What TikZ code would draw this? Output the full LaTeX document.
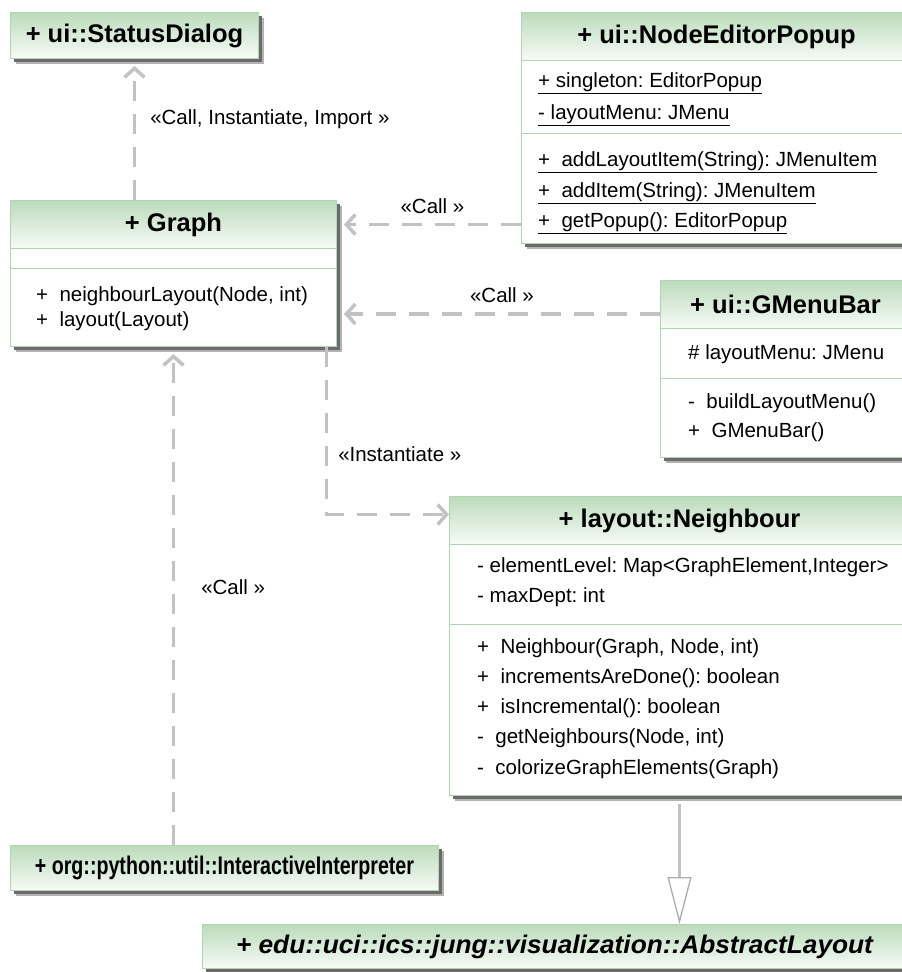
\documentclass[tikz,border=0pt]{standalone}
\usepackage{fontspec}
\usepackage{graphicx}
\setmainfont{Liberation Sans}
\usetikzlibrary{arrows.meta,shadows}

\definecolor{umlborder}{HTML}{B2D4B2}
\definecolor{headtop}{HTML}{BCDBBC}
\definecolor{headbot}{HTML}{F7FBF7}
\definecolor{depgray}{HTML}{C2C2C2}

\newcommand{\classfont}{\fontsize{25.5}{30}\selectfont\bfseries}
\newcommand{\memberfont}{\fontsize{20.5}{24}\selectfont}
\frenchspacing

\begin{document}
\begin{tikzpicture}[x=1pt, y=-1pt,
    boxshadow/.style={drop shadow={shadow xshift=5pt, shadow yshift=-5pt, fill=black!30, opacity=1},
                      drop shadow={shadow xshift=3pt, shadow yshift=-3pt, fill=black!58, opacity=1}},
    classbox/.style={boxshadow, draw=umlborder, line width=1pt, fill=white, anchor=north west, inner sep=0pt},
    classhead/.style={draw=umlborder, line width=1pt, top color=headtop, bottom color=headbot,
                      anchor=north west, inner sep=0pt, font=\classfont},
    member/.style={anchor=west, inner sep=0pt, font=\memberfont},
    sepline/.style={draw=umlborder, line width=1pt},
    dep/.style={draw=depgray, line width=3.5pt, dash pattern=on 20pt off 13pt,
                -{Straight Barb[length=9pt, width=20pt]}},
    gen/.style={draw=depgray, line width=3.5pt,
                -{Triangle[open, length=47pt, width=24pt, line width=1.3pt, color=black!32]}},
    deplabel/.style={font=\memberfont, inner sep=0pt}]

    \clip (0,0) rectangle (902,972);

    % ui::StatusDialog
    \node[classhead, boxshadow, minimum width=248, minimum height=46] (status) at (10,12) {+ ui::StatusDialog};

    % ui::NodeEditorPopup
    \node[classbox, minimum width=390, minimum height=231] (editor) at (521,12) {};
    \node[classhead, minimum width=390, minimum height=48] (editorhead) at (521,12) {+ ui::NodeEditorPopup};
    \draw[sepline] (521,133) -- (911,133);
    \node[member] (e1) at (538,83) {\underline{+ singleton: EditorPopup}};
    \node[member] (e2) at (538,115) {\underline{- layoutMenu: JMenu}};
    \node[member] (e3) at (538,162) {\underline{+\ \ addLayoutItem(String): JMenuItem}};
    \node[member] (e4) at (538,193) {\underline{+\ \ addItem(String): JMenuItem}};
    \node[member] (e5) at (538,223) {\underline{+\ \ getPopup(): EditorPopup}};

    % Graph
    \node[classbox, minimum width=326, minimum height=146] (graph) at (10,200) {};
    \node[classhead, minimum width=326, minimum height=48] (graphhead) at (10,200) {+ Graph};
    \draw[sepline] (10,268) -- (336,268);
    \node[member] (g1) at (36,296) {+\ \ neighbourLayout(Node, int)};
    \node[member] (g2) at (36,321) {+\ \ layout(Layout)};

    % ui::GMenuBar
    \node[classbox, minimum width=250, minimum height=177] (menubar) at (660,280) {};
    \node[classhead, minimum width=250, minimum height=48] (menuhead) at (660,280) {+ ui::GMenuBar};
    \draw[sepline] (660,378) -- (910,378);
    \node[member] (m1) at (688,354) {\# layoutMenu: JMenu};
    \node[member] (m2) at (688,403) {-\ \ buildLayoutMenu()};
    \node[member] (m3) at (688,432) {+\ \ GMenuBar()};

    % layout::Neighbour
    \node[classbox, minimum width=460, minimum height=299] (neighbour) at (449,496) {};
    \node[classhead, minimum width=460, minimum height=48] (nbhead) at (449,496) {+ layout::Neighbour};
    \draw[sepline] (449,624) -- (909,624);
    \node[member] (n1) at (477,567) {- elementLevel: Map<GraphElement,Integer>};
    \node[member] (n2) at (477,597) {- maxDept: int};
    \node[member] (n3) at (477,648) {+\ \ Neighbour(Graph, Node, int)};
    \node[member] (n4) at (477,678) {+\ \ incrementsAreDone(): boolean};
    \node[member] (n5) at (477,708) {+\ \ isIncremental(): boolean};
    \node[member] (n6) at (477,738) {-\ \ getNeighbours(Node, int)};
    \node[member] (n7) at (477,769) {-\ \ colorizeGraphElements(Graph)};

    % org::python::util::InteractiveInterpreter
    \node[classhead, boxshadow, minimum width=428, minimum height=45] (interp) at (10,845)
        {\scalebox{0.77}[1]{+ org::python::util::InteractiveInterpreter}};

    % edu::uci::ics::jung::visualization::AbstractLayout
    \node[classhead, boxshadow, minimum width=704, minimum height=44] (abstract) at (202,924)
        {\scalebox{1.03}[1]{\itshape + edu::uci::ics::jung::visualization::AbstractLayout}};

    % Dependencies
    \draw[dep] (status.south |- graph.north) -- ([yshift=-7pt]status.south)
        node[deplabel, pos=0.6, right=14pt] (lbl1) {«Call, Instantiate, Import »};
    \draw[dep] (graphhead -| editor.west) -- ([xshift=7pt]graphhead.east)
        node[deplabel, midway, above=9pt] (lbl2) {«Call »};
    \coordinate (menucall) at (660,314);
    \draw[dep] (menucall) -- ([xshift=7pt]graph.east |- menucall)
        node[deplabel, midway, above=10pt] (lbl3) {«Call »};
    \draw[dep] ([xshift=153pt]graph.south) |- ([yshift=6pt]nbhead.west)
        node[deplabel, pos=0.32, right=10pt] (lbl4) {«Instantiate »};
    \draw[dep] (graph.south |- interp.north) -- ([yshift=-7pt]graph.south)
        node[deplabel, pos=0.525, right=26pt] (lbl5) {«Call »};

    % Generalization
    \draw[gen] ([yshift=-8pt]neighbour.south) -- (neighbour.south |- abstract.north);

\end{tikzpicture}
\end{document}
